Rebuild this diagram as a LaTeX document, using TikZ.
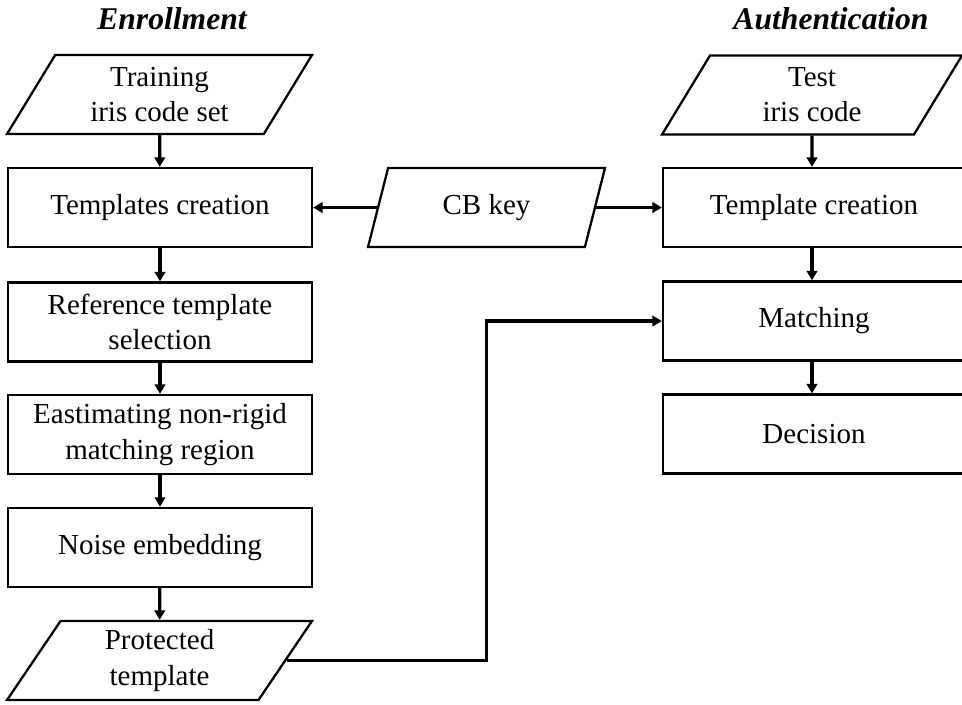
\documentclass[tikz,border=0pt]{standalone}
\usepackage{fontspec}
\setmainfont{Liberation Serif}
\usetikzlibrary{shapes.geometric,arrows.meta}

\tikzset{
  txt/.style={font=\fontsize{16.5}{20}\selectfont},
  box/.style={draw, txt, line width=1.3pt, minimum height=1.58cm, align=center, inner sep=2pt},
  lbox/.style={box, minimum width=6.08cm},
  rbox/.style={box, minimum width=6.04cm},
  io/.style={draw, txt, line width=1.3pt, trapezium, trapezium stretches body,
    trapezium left angle=52, trapezium right angle=128,
    minimum height=1.58cm, align=center, inner sep=2pt},
  arr/.style={-{Triangle[length=0.19cm,width=0.21cm]}, line width=1.9pt},
  title/.style={font=\fontsize{18}{21}\selectfont\bfseries\itshape}
}

\begin{document}
\begin{tikzpicture}[x=0.02cm, y=-0.02cm]
    \useasboundingbox (0,0) rectangle (962,704);
    \clip (0,0) rectangle (962,704);

    % 标题
    \node[title] (enr) at (172,19) {Enrollment};
    \node[title] (auth) at (831,19) {Authentication};

    % 注册
    \node[io, minimum width=6.1cm] (train) at (159.5,94.5) {Training\\iris code set};
    \node[lbox] (tmpl) at (160,207.5) {Templates creation};
    \node[lbox] (ref) at (160,322) {Reference template\\selection};
    \node[lbox] (est) at (160,434.5) {Eastimating non-rigid\\matching region};
    \node[lbox] (noise) at (160,547.5) {Noise embedding};
    \node[io, minimum width=6.1cm] (prot) at (159.5,660.5) {Protected\\template};

    % 密钥
    \node[io, minimum width=4.74cm, trapezium left angle=59, trapezium right angle=121] (cb) at (486.5,207.5) {CB key};

    % 认证
    \node[io, minimum width=6cm] (test) at (812,95) {Test\\iris code};
    \node[rbox] (ttmpl) at (814,207.5) {Template creation};
    \node[rbox] (match) at (814,321) {Matching};
    \node[rbox] (dec) at (814,434) {Decision};

    % 箭头
    \draw[arr] (train) -- (tmpl);
    \draw[arr] (tmpl) -- (ref);
    \draw[arr] (ref) -- (est);
    \draw[arr] (est) -- (noise);
    \draw[arr] (noise) -- (prot);
    \draw[arr] (test) -- (test |- ttmpl.north);
    \draw[arr] (test |- ttmpl.south) -- (test |- match.north);
    \draw[arr] (test |- match.south) -- (test |- dec.north);
    \draw[arr] (cb.left side) -- (cb.left side -| tmpl.east);
    \draw[arr] (cb.right side) -- (cb.right side -| ttmpl.west);
    \draw[arr] (prot.right side) -| (cb |- match.west) -- (match.west);
\end{tikzpicture}
\end{document}
